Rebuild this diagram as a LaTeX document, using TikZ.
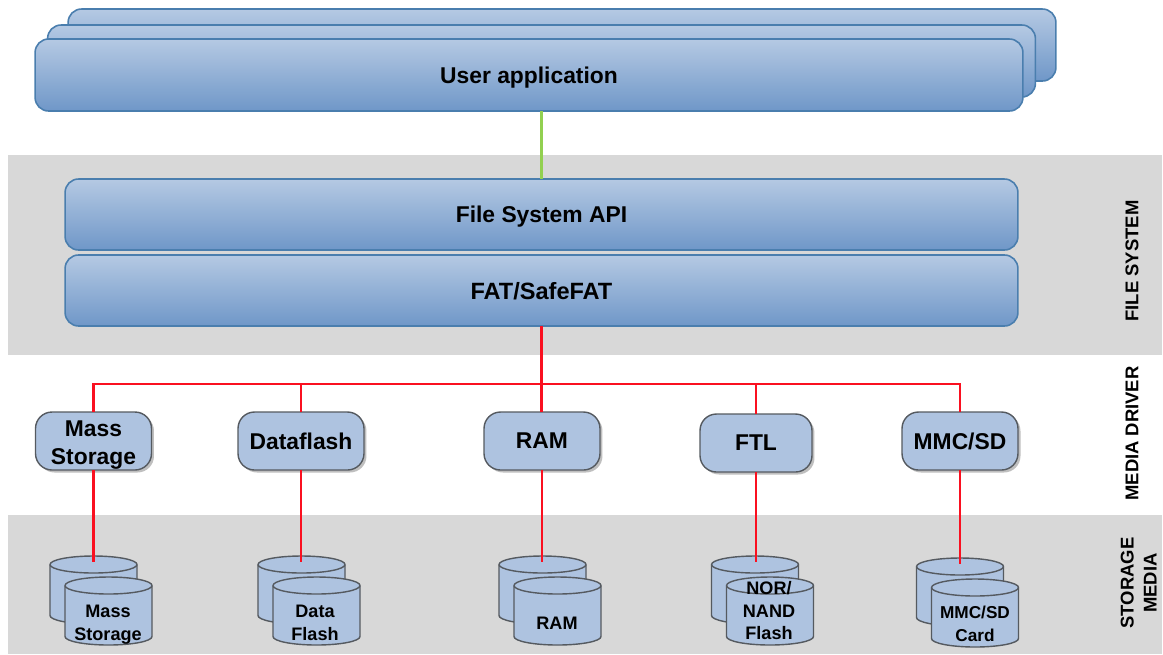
\documentclass[tikz,border=0pt]{standalone}
\usepackage{fontspec}
\setmainfont{Liberation Sans}
\usetikzlibrary{positioning,calc,shadows}

\definecolor{bandgray}{HTML}{D8D8D8}
\definecolor{boxtop}{HTML}{B5C9E3}
\definecolor{boxbottom}{HTML}{6F97C8}
\definecolor{boxline}{HTML}{4A7EAE}
\definecolor{nodeblue}{HTML}{AEC3E0}
\definecolor{nodeline}{HTML}{555A60}
\definecolor{busred}{HTML}{FA1020}
\definecolor{apigreen}{HTML}{92D050}

\tikzset{
  band/.style={fill=bandgray},
  block/.style={draw=boxline,line width=.9pt,rounded corners=.27cm,top color=boxtop,bottom color=boxbottom,
    minimum width=19.76cm,minimum height=1.44cm,outer sep=0pt,text depth=0pt,font=\bfseries\fontsize{13}{15}\selectfont},
  driver/.style={draw=nodeline,line width=.8pt,rounded corners=.33cm,fill=nodeblue,minimum height=1.16cm,
    outer sep=0pt,inner sep=0pt,font=\bfseries\fontsize{13}{15}\selectfont,
    drop shadow={shadow xshift=.05cm,shadow yshift=-.05cm,fill=black,opacity=.25}},
  disktext/.style={inner sep=0pt,font=\bfseries\fontsize{10.3}{13.3}\selectfont},
  sidelabel/.style={rotate=90,font=\bfseries\fontsize{10.5}{13}\selectfont},
  busline/.style={draw=busred,line width=1.6pt},
  disk/.pic={
    \draw[draw=nodeline,line width=.8pt,fill=nodeblue] (-43.5,-25.5) -- (-43.5,25.5)
      arc[start angle=180,end angle=360,x radius=.87cm,y radius=.17cm] -- (43.5,-25.5)
      arc[start angle=0,end angle=180,x radius=.87cm,y radius=.17cm] -- cycle;
    \draw[draw=nodeline,line width=.8pt] (-43.5,-25.5) arc[start angle=180,end angle=360,x radius=.87cm,y radius=.17cm];
    \coordinate (-top) at (0,-28);
  },
}

\begin{document}
\begin{tikzpicture}[x=.02cm,y=-.02cm]
    \useasboundingbox (0,0) rectangle (1163,654);

    \fill[band] (8,155) rectangle (1162,355);
    \fill[band] (8,515) rectangle (1162,654);

    \node[block] (APPC) at (562,45) {};
    \node[block] (APPB) at (541.5,61) {};
    \node[block] (APPA) at (529,75) {User application};

    \node[block,minimum width=19.06cm,minimum height=1.42cm] (API) at (541.5,214.5) {File System API};
    \node[block,minimum width=19.06cm,minimum height=1.42cm,below=.1cm of API,font=\bfseries\fontsize{13.4}{15}\selectfont] (FAT) {FAT/SafeFAT};

    \draw[apigreen,line width=1.6pt] (API.north) -- (API.north|-APPA.south);

    \node[driver,minimum width=2.32cm] (MS) at (93.5,441) {\raisebox{-5.5pt}[0pt][0pt]{\begin{tabular}{@{}c@{}} Mass \\[1pt] Storage \end{tabular}}};
    \node[driver,minimum width=2.52cm] (DF) at (301,441) {Dataflash};
    \node[driver,minimum width=2.32cm] (RAM) at (542,441) {RAM};
    \node[driver,minimum width=2.24cm] (FTL) at (756,443) {FTL};
    \node[driver,minimum width=2.32cm] (MMC) at (960,441) {MMC/SD};

    \coordinate (BUS) at (541.5,384);

    \pic (MSB) at (93.5,590) {disk};
    \pic (DFB) at (301.5,590) {disk};
    \pic (RAMB) at (542.5,590) {disk};
    \pic (FTLB) at (755,590) {disk};
    \pic (MMCB) at (960,592) {disk};

    \pic (MSF) at (108.5,611) {disk};
    \pic (DFF) at (316.5,611) {disk};
    \pic (RAMF) at (557.5,611) {disk};
    \pic (FTLF) at (770,611) {disk};
    \pic (MMCF) at (975,613) {disk};

    \node[disktext] (MST) at (108,624) {\begin{tabular}{@{}c@{}} Mass \\ Storage \end{tabular}};
    \node[disktext] (DFT) at (315,624) {\begin{tabular}{@{}c@{}} Data \\ Flash \end{tabular}};
    \node[disktext] (RAMT) at (557,623) {RAM};
    \node[disktext] (FTLT) at (769,612.5) {\begin{tabular}{@{}c@{}} NOR/ \\ NAND \\[-.8pt] Flash \end{tabular}};
    \node[disktext,font=\bfseries\fontsize{9.8}{13.3}\selectfont] (MMCT) at (975,625.5) {\begin{tabular}{@{}c@{}} MMC/SD \\ Card \end{tabular}};

    \draw[busline] (FAT.south-|BUS) -- (RAM.north-|BUS);
    \draw[busline] (MS.north) |- (BUS) -| (MMC.north);
    \draw[busline] (DF.north) -- (DF.north|-BUS);
    \draw[busline] (FTL.north) -- (FTL.north|-BUS);

    \draw[busline] (MS.south) -- (MS.south|-MSB-top);
    \draw[busline] (DF.south) -- (DF.south|-DFB-top);
    \draw[busline] (RAM.south) -- (RAM.south|-RAMB-top);
    \draw[busline] (FTL.south) -- (FTL.south|-FTLB-top);
    \draw[busline] (MMC.south) -- (MMC.south|-MMCB-top);

    \node[sidelabel] (FS) at (1132,261) {FILE SYSTEM};
    \node[sidelabel] (MD) at (1132,433.5) {MEDIA DRIVER};
    \node[sidelabel] (SM) at (1140.5,583) {\begin{tabular}{@{}c@{}} STORAGE \\ MEDIA \end{tabular}};
\end{tikzpicture}
\end{document}
